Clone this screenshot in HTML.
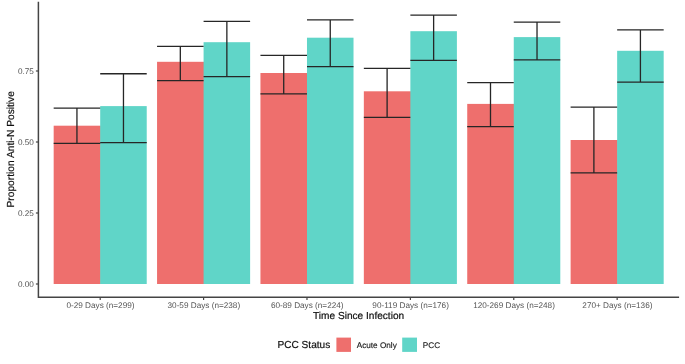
<!DOCTYPE html>
<html><head><meta charset="utf-8"><style>
html,body{margin:0;padding:0;background:#fff;}
body{width:685px;height:364px;overflow:hidden;}
svg{display:block;filter:blur(0.35px);}
text{font-family:"Liberation Sans",sans-serif;text-rendering:geometricPrecision;}
.tk{font-size:8.2px;fill:#555;}
.ti{font-size:10.1px;fill:#111;stroke:#111;stroke-width:0.2px;stroke-linejoin:round;}
.lg{font-size:8.2px;fill:#1a1a1a;stroke:#1a1a1a;stroke-width:0.15px;stroke-linejoin:round;}
</style></head><body>
<svg width="685" height="364" viewBox="0 0 685 364">
<rect width="685" height="364" fill="#fff"/>
<rect x="53.67" y="125.70" width="47.13" height="158.30" fill="#EE6F6D"/>
<rect x="100.20" y="106.10" width="46.53" height="177.90" fill="#60D5C8"/>
<rect x="157.06" y="61.80" width="47.13" height="222.20" fill="#EE6F6D"/>
<rect x="203.59" y="42.20" width="46.53" height="241.80" fill="#60D5C8"/>
<rect x="260.45" y="73.00" width="47.13" height="211.00" fill="#EE6F6D"/>
<rect x="306.98" y="37.70" width="46.53" height="246.30" fill="#60D5C8"/>
<rect x="363.84" y="91.30" width="47.13" height="192.70" fill="#EE6F6D"/>
<rect x="410.37" y="31.20" width="46.53" height="252.80" fill="#60D5C8"/>
<rect x="467.23" y="103.90" width="47.13" height="180.10" fill="#EE6F6D"/>
<rect x="513.76" y="37.10" width="46.53" height="246.90" fill="#60D5C8"/>
<rect x="570.62" y="140.00" width="47.13" height="144.00" fill="#EE6F6D"/>
<rect x="617.15" y="50.80" width="46.53" height="233.20" fill="#60D5C8"/>
<path d="M53.67 108.05H100.20M76.94 108.05V143.45M53.67 143.45H100.20" stroke="#262626" stroke-width="1.3" fill="none"/>
<path d="M100.20 73.75H146.73M123.47 73.75V142.55M100.20 142.55H146.73" stroke="#262626" stroke-width="1.3" fill="none"/>
<path d="M157.06 46.35H203.59M180.32 46.35V80.55M157.06 80.55H203.59" stroke="#262626" stroke-width="1.3" fill="none"/>
<path d="M203.59 21.35H250.12M226.86 21.35V76.55M203.59 76.55H250.12" stroke="#262626" stroke-width="1.3" fill="none"/>
<path d="M260.45 55.35H306.98M283.72 55.35V93.95M260.45 93.95H306.98" stroke="#262626" stroke-width="1.3" fill="none"/>
<path d="M306.98 19.95H353.51M330.25 19.95V66.65M306.98 66.65H353.51" stroke="#262626" stroke-width="1.3" fill="none"/>
<path d="M363.84 68.35H410.37M387.11 68.35V117.45M363.84 117.45H410.37" stroke="#262626" stroke-width="1.3" fill="none"/>
<path d="M410.37 15.15H456.90M433.63 15.15V60.45M410.37 60.45H456.90" stroke="#262626" stroke-width="1.3" fill="none"/>
<path d="M467.23 82.65H513.76M490.50 82.65V126.55M467.23 126.55H513.76" stroke="#262626" stroke-width="1.3" fill="none"/>
<path d="M513.76 22.15H560.29M537.02 22.15V59.95M513.76 59.95H560.29" stroke="#262626" stroke-width="1.3" fill="none"/>
<path d="M570.62 107.15H617.15M593.89 107.15V172.85M570.62 172.85H617.15" stroke="#262626" stroke-width="1.3" fill="none"/>
<path d="M617.15 29.85H663.68M640.42 29.85V82.15M617.15 82.15H663.68" stroke="#262626" stroke-width="1.3" fill="none"/>
<path d="M38.4 1.8V297.3H679.1" stroke="#444" stroke-width="1.5" fill="none"/>
<path d="M35.9 284H38" stroke="#444" stroke-width="1.2"/>
<text x="33.9" y="286.9" text-anchor="end" class="tk">0.00</text>
<path d="M35.9 213H38" stroke="#444" stroke-width="1.2"/>
<text x="33.9" y="215.9" text-anchor="end" class="tk">0.25</text>
<path d="M35.9 142H38" stroke="#444" stroke-width="1.2"/>
<text x="33.9" y="144.9" text-anchor="end" class="tk">0.50</text>
<path d="M35.9 71H38" stroke="#444" stroke-width="1.2"/>
<text x="33.9" y="73.9" text-anchor="end" class="tk">0.75</text>
<path d="M100.20 297.4V300.0" stroke="#444" stroke-width="1.2"/>
<text x="100.45" y="307.75" text-anchor="middle" class="tk">0-29 Days (n=299)</text>
<path d="M203.59 297.4V300.0" stroke="#444" stroke-width="1.2"/>
<text x="203.84" y="307.75" text-anchor="middle" class="tk">30-59 Days (n=238)</text>
<path d="M306.98 297.4V300.0" stroke="#444" stroke-width="1.2"/>
<text x="307.23" y="307.75" text-anchor="middle" class="tk">60-89 Days (n=224)</text>
<path d="M410.37 297.4V300.0" stroke="#444" stroke-width="1.2"/>
<text x="410.62" y="307.75" text-anchor="middle" class="tk">90-119 Days (n=176)</text>
<path d="M513.76 297.4V300.0" stroke="#444" stroke-width="1.2"/>
<text x="514.01" y="307.75" text-anchor="middle" class="tk">120-269 Days (n=248)</text>
<path d="M617.15 297.4V300.0" stroke="#444" stroke-width="1.2"/>
<text x="617.40" y="307.75" text-anchor="middle" class="tk">270+ Days (n=136)</text>
<text x="358.6" y="319.0" text-anchor="middle" class="ti">Time Since Infection</text>
<text transform="translate(13.6 149.3) rotate(-90)" text-anchor="middle" class="ti" style="font-size:10.22px">Proportion Anti-N Positive</text>
<text x="277.5" y="348.4" class="ti">PCC Status</text>
<rect x="336.4" y="337.6" width="14.6" height="14.3" fill="#EE6F6D"/>
<text x="356.7" y="347.7" class="lg">Acute Only</text>
<rect x="402.2" y="337.6" width="14.8" height="14.3" fill="#60D5C8"/>
<text x="422.8" y="347.5" class="lg">PCC</text>
</svg>
</body></html>
